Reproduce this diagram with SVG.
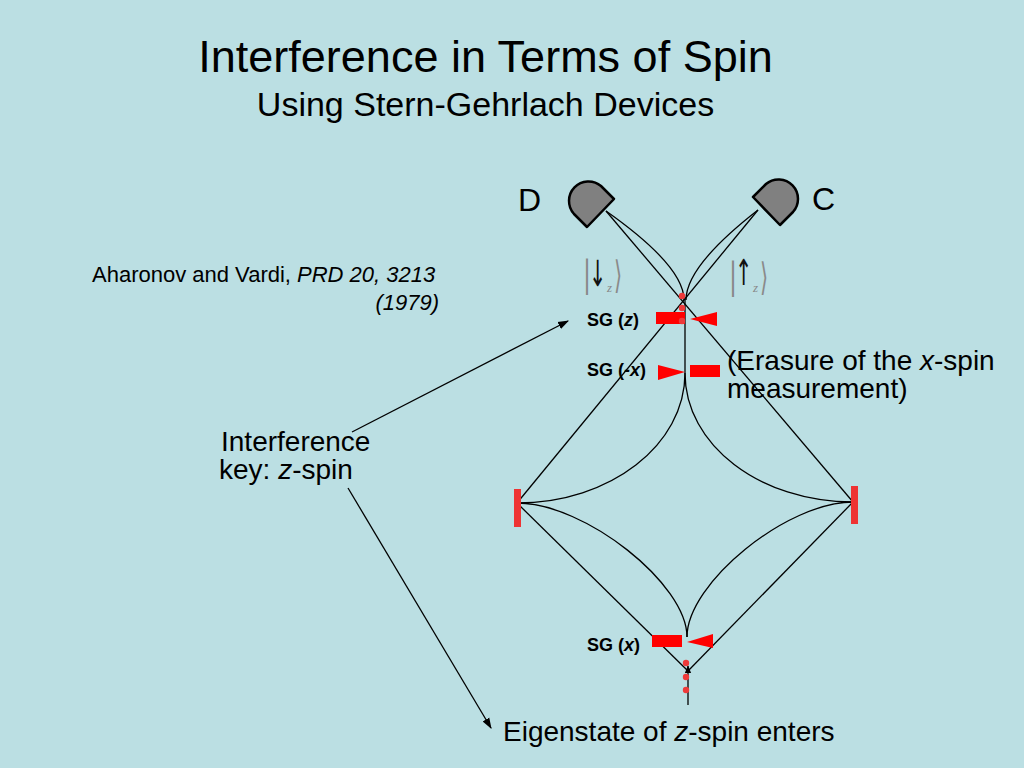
<svg xmlns="http://www.w3.org/2000/svg" width="1024" height="768" viewBox="0 0 1024 768">
  <defs>
    <style>
      text { font-family: "Liberation Sans", Arial, sans-serif; fill: #000; }
      .ln { fill: none; stroke: #000; stroke-width: 1.3; }
      .sg { fill: #FF0000; }
      .mirror { fill: #EE3333; }
      .dot { fill: #EE3A3A; }
      .det { fill: #808080; stroke: #000; stroke-width: 2.5; stroke-linejoin: round; }
      .sgl { font-size: 18px; font-weight: bold; }
      .ket { font-family: "Liberation Serif", "DejaVu Serif", serif; fill: #888; }
      .arr { font-family: "DejaVu Sans", sans-serif; fill: #111; font-size: 24px; }
      .brk { font-family: "DejaVu Sans", sans-serif; fill: #8a8a8a; font-size: 38px; }
    </style>
    <marker id="ah" viewBox="0 0 10 10" refX="9" refY="5" markerWidth="11" markerHeight="11" orient="auto" markerUnits="userSpaceOnUse">
      <path d="M0,1.5 L10,5 L0,8.5 Z" fill="#000"/>
    </marker>
    <marker id="ahs" viewBox="0 0 10 10" refX="9" refY="5" markerWidth="8" markerHeight="8" orient="auto" markerUnits="userSpaceOnUse">
      <path d="M0,1 L10,5 L0,9 Z" fill="#000"/>
    </marker>
  </defs>

  <rect width="1024" height="768" fill="#BBDFE3"/>

  <g id="title">
    <text x="485.5" y="72" text-anchor="middle" font-size="45">Interference in Terms of Spin</text>
    <text x="485.5" y="116" text-anchor="middle" font-size="34">Using Stern-Gehrlach Devices</text>
  </g>

  <g id="reference">
    <text x="92" y="282" font-size="22">Aharonov and Vardi, <tspan font-style="italic">PRD 20, 3213</tspan></text>
    <text x="439" y="310" font-size="22" font-style="italic" text-anchor="end">(1979)</text>
  </g>

  <g id="connectors">
    <!-- straight beams -->
    <line class="ln" x1="606" y1="211" x2="853" y2="502"/>
    <line class="ln" x1="758" y1="210" x2="517" y2="503"/>
    <line class="ln" x1="517" y1="503" x2="688" y2="671"/>
    <line class="ln" x1="853" y1="502" x2="688" y2="671"/>
    <!-- curved beams near detectors -->
    <path class="ln" d="M606,211 Q684,266 684,300"/>
    <path class="ln" d="M758,210 Q686,266 686,300"/>
    <line class="ln" x1="685" y1="299" x2="685" y2="373"/>
    <!-- cusp curves -->
    <path class="ln" d="M685,373 C685,445 610,503 517,503"/>
    <path class="ln" d="M685,373 C685,445 760,502 853,502"/>
    <path class="ln" d="M517,503 C585,503 687,584 687,637"/>
    <path class="ln" d="M853,502 C787,502 687,583 687,637"/>
    <!-- incoming beam -->
    <line class="ln" x1="688" y1="705" x2="688" y2="666" marker-end="url(#ahs)"/>
    <!-- label arrows -->
    <line class="ln" x1="352" y1="432" x2="568" y2="321" marker-end="url(#ah)"/>
    <line class="ln" x1="348" y1="488" x2="491" y2="728" marker-end="url(#ah)"/>
  </g>

  <g id="detector-D">
    <path class="det" d="M614,199 L587,227 L574,214 A19.5,19.5 0 0 1 601,186 Z"/>
    <text x="518" y="211" font-size="32">D</text>
  </g>

  <g id="detector-C">
    <path class="det" d="M753,197 L780,225 L793,212 A19.5,19.5 0 0 0 766,184 Z"/>
    <text x="812" y="210" font-size="32">C</text>
  </g>

  <g id="ket-down">
    <text class="ket" x="583" y="286" font-size="40">|</text>
    <text class="arr" transform="translate(589,286) scale(0.85,1.5)">↓</text>
    <text class="ket" x="607" y="292" font-size="13" font-style="italic">z</text>
    <text class="brk" transform="translate(614,288) scale(0.55,1)">⟩</text>
  </g>

  <g id="ket-up">
    <text class="ket" x="729" y="288" font-size="40">|</text>
    <text class="arr" transform="translate(735,285) scale(0.85,1.5)">↑</text>
    <text class="ket" x="753" y="292" font-size="13" font-style="italic">z</text>
    <text class="brk" transform="translate(760,290) scale(0.55,1)">⟩</text>
  </g>

  <g id="SG-z">
    <rect class="sg" x="656" y="312" width="29" height="12"/>
    <polygon class="sg" points="690,319 717,312 717,326"/>
    <text class="sgl" x="587" y="326">SG (<tspan font-style="italic">z</tspan>)</text>
  </g>

  <g id="SG-minus-x">
    <polygon class="sg" points="658,365 685,372 658,380"/>
    <rect class="sg" x="690" y="365" width="30" height="12"/>
    <text class="sgl" x="587" y="376">SG (<tspan font-style="italic">-x</tspan>)</text>
  </g>

  <g id="SG-x">
    <rect class="sg" x="652" y="635" width="30" height="12"/>
    <polygon class="sg" points="687,642 713,634 713,648"/>
    <text class="sgl" x="587" y="651">SG (<tspan font-style="italic">x</tspan>)</text>
  </g>

  <g id="mirror-left">
    <rect class="mirror" x="514" y="489" width="7" height="38"/>
  </g>
  <g id="mirror-right">
    <rect class="mirror" x="851" y="486" width="7" height="38"/>
  </g>

  <g id="dots">
    <circle class="dot" cx="682" cy="296" r="3.2"/>
    <circle class="dot" cx="682" cy="308" r="3.2"/>
    <circle class="dot" cx="682" cy="321" r="3.2" fill="#F05050"/>
    <circle class="dot" cx="686" cy="663" r="3.2"/>
    <circle class="dot" cx="686" cy="677" r="3.2"/>
    <circle class="dot" cx="686" cy="690" r="3.2"/>
  </g>

  <g id="erasure-label">
    <text x="727" y="370" font-size="28">(Erasure of the <tspan font-style="italic">x</tspan>-spin</text>
    <text x="727" y="398" font-size="28">measurement)</text>
  </g>

  <g id="interference-key">
    <text x="221" y="451" font-size="28">Interference</text>
    <text x="219" y="479" font-size="28">key: <tspan font-style="italic">z</tspan>-spin</text>
  </g>

  <g id="entry-label">
    <text x="503" y="741" font-size="28">Eigenstate of <tspan font-style="italic">z</tspan>-spin enters</text>
  </g>
</svg>
